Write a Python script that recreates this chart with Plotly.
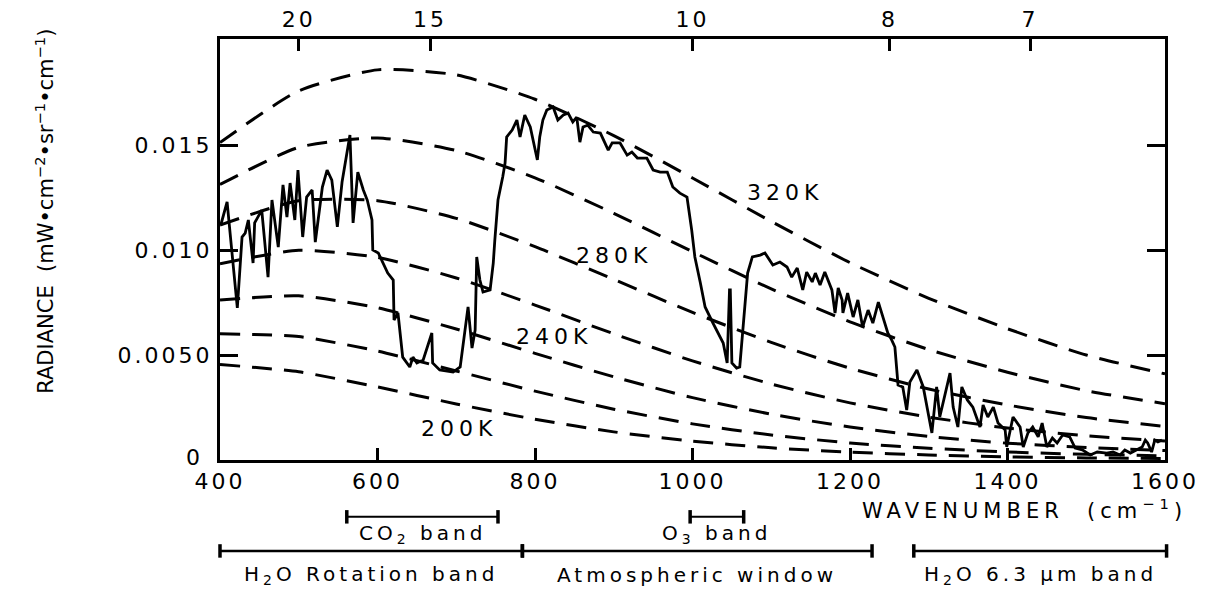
import plotly.graph_objects as go

# ---------------- data ----------------
wavenumber = [401, 409, 422, 428, 432, 436, 442, 444, 453, 461, 466, 474, 480, 485, 489, 495,
              499, 505, 510, 517, 521, 530, 536, 542, 549, 555, 565, 569, 575, 582, 587, 593,
              594, 601, 613, 620, 621, 626, 632, 641, 645, 650, 658, 669, 670, 679, 696, 705,
              715, 720, 724, 726, 730, 734, 743, 747, 749, 753, 759, 762, 764, 771, 777, 781,
              787, 794, 803, 806, 810, 815, 823, 829, 836, 842, 848, 853, 857, 861, 867, 874,
              883, 893, 898, 908, 917, 923, 930, 942, 950, 959, 968, 975, 984, 993, 999, 1003,
              1010, 1016, 1026, 1035, 1039, 1044, 1047, 1048, 1050, 1056, 1060, 1070, 1076, 1086,
              1092, 1102, 1111, 1120, 1126, 1133, 1140, 1145, 1152, 1156, 1162, 1168, 1177, 1181,
              1185, 1190, 1191, 1197, 1204, 1210, 1216, 1223, 1229, 1236, 1242, 1248, 1253, 1257,
              1261, 1267, 1272, 1276, 1285, 1293, 1304, 1310, 1314, 1321, 1327, 1331, 1337, 1342,
              1349, 1356, 1365, 1369, 1375, 1382, 1388, 1397, 1399, 1407, 1416, 1420, 1426, 1432,
              1439, 1444, 1450, 1457, 1463, 1470, 1479, 1486, 1495, 1505, 1514, 1526, 1534, 1543,
              1549, 1556, 1564, 1571, 1575, 1578, 1583, 1587, 1591, 1596]
radiance = [0.01119, 0.01229, 0.00724, 0.01062, 0.01081, 0.01143, 0.00938, 0.01129, 0.01190,
            0.00871, 0.01238, 0.01014, 0.01310, 0.01157, 0.01319, 0.01143, 0.01381, 0.01062,
            0.01252, 0.01286, 0.01038, 0.01300, 0.01381, 0.01333, 0.01110, 0.01324, 0.01548,
            0.01129, 0.01371, 0.01286, 0.01238, 0.01143, 0.01000, 0.00986, 0.00890, 0.00857,
            0.00667, 0.00700, 0.00490, 0.00443, 0.00490, 0.00462, 0.00476, 0.00605, 0.00462,
            0.00429, 0.00419, 0.00443, 0.00729, 0.00533, 0.00619, 0.00967, 0.00857, 0.00800,
            0.00810, 0.00938, 0.01048, 0.01238, 0.01348, 0.01414, 0.01538, 0.01571, 0.01619,
            0.01538, 0.01643, 0.01586, 0.01429, 0.01538, 0.01619, 0.01667, 0.01681, 0.01619,
            0.01643, 0.01652, 0.01610, 0.01633, 0.01514, 0.01586, 0.01595, 0.01562, 0.01557,
            0.01476, 0.01510, 0.01510, 0.01452, 0.01467, 0.01438, 0.01438, 0.01381, 0.01371,
            0.01371, 0.01300, 0.01271, 0.01252, 0.01095, 0.00967, 0.00843, 0.00729, 0.00652,
            0.00586, 0.00557, 0.00462, 0.00810, 0.00810, 0.00462, 0.00438, 0.00443, 0.00890,
            0.00967, 0.00976, 0.00986, 0.00929, 0.00943, 0.00919, 0.00871, 0.00914, 0.00810,
            0.00895, 0.00848, 0.00890, 0.00833, 0.00895, 0.00810, 0.00700, 0.00819, 0.00762,
            0.00700, 0.00795, 0.00681, 0.00762, 0.00633, 0.00714, 0.00652, 0.00752, 0.00681,
            0.00605, 0.00571, 0.00538, 0.00357, 0.00348, 0.00238, 0.00371, 0.00429, 0.00348,
            0.00129, 0.00348, 0.00205, 0.00319, 0.00414, 0.00252, 0.00157, 0.00348, 0.00286,
            0.00252, 0.00157, 0.00262, 0.00205, 0.00252, 0.00176, 0.00143, 0.00062, 0.00205,
            0.00157, 0.00062, 0.00129, 0.00157, 0.00110, 0.00176, 0.00062, 0.00105, 0.00081,
            0.00119, 0.00110, 0.00057, 0.00048, 0.00024, 0.00038, 0.00033, 0.00038, 0.00024,
            0.00048, 0.00033, 0.00048, 0.00062, 0.00095, 0.00081, 0.00038, 0.00095, 0.00086,
            0.00095]

# blackbody reference curves
curve_nu = [400, 500, 600, 700, 800, 900, 1000, 1100, 1200, 1300, 1400, 1500, 1600]
curve_320 = [0.01512, 0.01758, 0.01858, 0.01834, 0.01718, 0.01545, 0.01343, 0.01136,
             0.00940, 0.00770, 0.00625, 0.00500, 0.00410]
curve_300 = [0.01312, 0.01489, 0.01534, 0.01474, 0.01344, 0.01175, 0.00992, 0.00815,
             0.00658, 0.00526, 0.00418, 0.00330, 0.00268]
curve_280 = [0.01119, 0.01235, 0.01235, 0.01151, 0.01016, 0.00860, 0.00703, 0.00560,
             0.00437, 0.00338, 0.00262, 0.00202, 0.00160]
curve_260 = [0.00935, 0.00999, 0.00965, 0.00867, 0.00738, 0.00601, 0.00472, 0.00362,
             0.00272, 0.00204, 0.00152, 0.00115, 0.00090]
curve_240 = [0.00762, 0.00782, 0.00725, 0.00624, 0.00508, 0.00396, 0.00297, 0.00218,
             0.00157, 0.00112, 0.00080, 0.00060, 0.00045]
curve_220 = [0.00601, 0.00588, 0.00519, 0.00424, 0.00328, 0.00242, 0.00172, 0.00119,
             0.00081, 0.00056, 0.00038, 0.00027, 0.00020]
curve_200 = [0.00455, 0.00420, 0.00348, 0.00267, 0.00194, 0.00134, 0.00090, 0.00058,
             0.00037, 0.00024, 0.00015, 0.00010, 0.00007]
curve_values = [curve_200, curve_220, curve_240, curve_260, curve_280, curve_300, curve_320]

# curve labels
label_text = ["320K", "280K", "240K", "200K"]
label_nu = [1117, 900, 824, 704]
label_rad = [0.01276, 0.00976, 0.00586, 0.00152]

# axis ticks
x_ticks = [400, 600, 800, 1000, 1200, 1400, 1600]
y_ticks = [0, 0.005, 0.010, 0.015]
y_ticktext = ["", "0.0050", "0.010", "0.015"]
zero_label = "0"
wavelength_um = [20, 15, 10, 8, 7]

# spectral bands below the axis
band_names = ["CO<sub>2</sub> band", "O<sub>3</sub> band", "H<sub>2</sub>O Rotation band",
              "Atmospheric window", "H<sub>2</sub>O 6.3 \u03bcm band"]
band_start = [561, 997, 400, 784, 1281]
band_end = [753, 1065, 784, 1228, 1602]
band_row = [0, 0, 1, 1, 1]

# ---------------- figure ----------------
FONT = "DejaVu Sans"
X0, X1 = 400, 1600
Y1 = 0.02005


def spaced(text, px):
    """Wide letter spacing, like the lettering of the original figure."""
    return '<span style="letter-spacing:%dpx">%s</span>' % (px, text)


fig = go.Figure()

for vals in curve_values:
    fig.add_trace(go.Scatter(
        x=curve_nu, y=vals, mode="lines",
        line=dict(color="black", width=3, dash="20px,12px", shape="spline", smoothing=0.6),
        hoverinfo="skip", showlegend=False, cliponaxis=True))

fig.add_trace(go.Scatter(
    x=wavenumber, y=radiance, mode="lines",
    line=dict(color="black", width=2.8),
    showlegend=False, name="spectrum"))

# helper trace so the top (wavelength) axis is drawn
fig.add_trace(go.Scatter(
    x=[X0, X1], y=[0, 0], xaxis="x2", mode="markers",
    marker=dict(opacity=0, size=1), hoverinfo="skip", showlegend=False))

annotations = []
for t, nu, r in zip(label_text, label_nu, label_rad):
    annotations.append(dict(x=nu, y=r, xref="x", yref="y", text=spaced(t, 5), showarrow=False,
                            font=dict(family=FONT, size=22, color="black")))

# "0" on the radiance axis, lifted a little so it clears the "400" label
annotations.append(dict(x=-0.019, y=0, xref="paper", yref="y", text=zero_label,
                        showarrow=False, xanchor="right", yanchor="middle", yshift=3,
                        font=dict(family=FONT, size=22, color="black")))

# axis titles
annotations.append(dict(x=1.025, y=-0.116, xref="paper", yref="paper",
                        text=spaced("WAVENUMBER  (cm<sup>\u22121</sup>)", 5), showarrow=False,
                        xanchor="right", yanchor="middle",
                        font=dict(family=FONT, size=21, color="black")))
annotations.append(dict(x=-0.203, y=0.59, xref="paper", yref="paper",
                        text="RADIANCE  (mW\u2022cm<sup>\u22122</sup>\u2022sr<sup>\u22121</sup>\u2022cm<sup>\u22121</sup>)",
                        showarrow=False, textangle=-90,
                        font=dict(family=FONT, size=21, color="black")))

shapes = []
row_y = [-0.135, -0.216]
row_text_y = [-0.176, -0.274]
cap = 0.016
for name, s, e, row in zip(band_names, band_start, band_end, band_row):
    xs = (s - X0) / (X1 - X0)
    xe = (e - X0) / (X1 - X0)
    yy = row_y[row]
    w = 2 if row == 0 else 2.5
    shapes.append(dict(type="line", xref="paper", yref="paper", x0=xs, x1=xe, y0=yy, y1=yy,
                       line=dict(color="black", width=w)))
    for xc in (xs, xe):
        shapes.append(dict(type="line", xref="paper", yref="paper", x0=xc, x1=xc,
                           y0=yy - cap, y1=yy + cap, line=dict(color="black", width=3.5)))
    annotations.append(dict(x=(s + e) / 2, y=row_text_y[row], xref="x", yref="paper",
                            text=spaced(name, 4), showarrow=False, yanchor="middle",
                            font=dict(family=FONT, size=20, color="black")))

tick_font = dict(family=FONT, size=22, color="black")

# the page body has an 8 px margin, so the figure is a little smaller than the window
fig.update_layout(
    width=1206, height=586,
    margin=dict(l=212, r=49, t=31, b=134, autoexpand=False),
    paper_bgcolor="white", plot_bgcolor="white",
    showlegend=False,
    xaxis=dict(range=[X0, X1], tickvals=x_ticks, ticktext=[spaced(str(v), 3) for v in x_ticks],
               ticks="inside", ticklen=12, tickwidth=3,
               tickcolor="black", showline=True, linewidth=3, linecolor="black",
               showgrid=False, zeroline=False, automargin=False, tickfont=tick_font),
    xaxis2=dict(range=[X0, X1], overlaying="x", side="top",
                tickvals=[1e4 / w for w in wavelength_um],
                ticktext=[spaced(str(w), 3) for w in wavelength_um],
                ticks="inside", ticklen=12, tickwidth=3, tickcolor="black",
                showline=True, linewidth=3, linecolor="black",
                showgrid=False, zeroline=False, automargin=False, tickfont=tick_font),
    yaxis=dict(range=[0, Y1], tickvals=y_ticks, ticktext=[spaced(t, 3) for t in y_ticktext],
               ticks="inside",
               ticklen=18, tickwidth=3, tickcolor="black", showline=True, linewidth=3,
               linecolor="black", mirror="ticks", showgrid=False, zeroline=False,
               automargin=False, tickfont=tick_font),
    annotations=annotations,
    shapes=shapes,
)

fig.write_html("out.html")
